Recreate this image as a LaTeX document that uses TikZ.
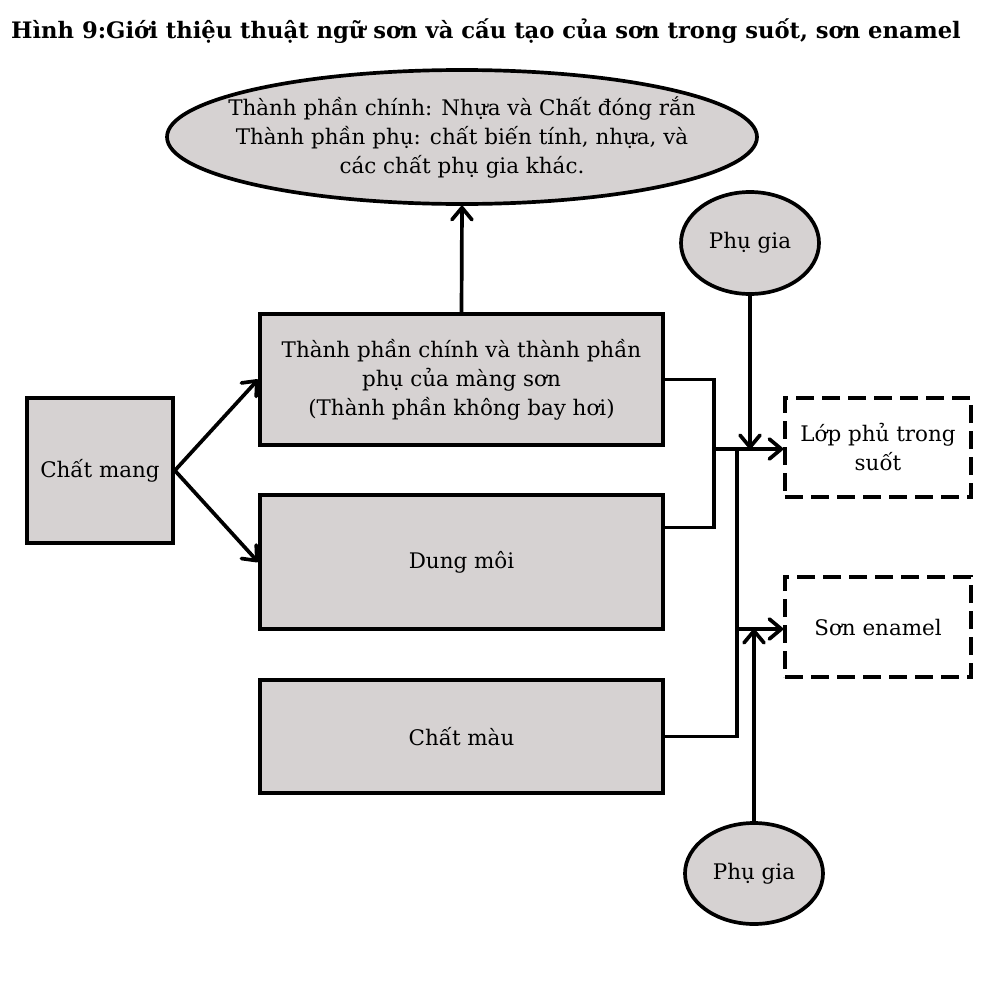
\documentclass[tikz,border=0pt]{standalone}
\usepackage{fontspec}
\setmainfont{DejaVu Serif}
\usetikzlibrary{arrows.meta,shapes.geometric,calc}
\definecolor{boxgray}{RGB}{214,210,210}
\begin{document}
\begin{tikzpicture}[x=0.2mm,y=-0.2mm,
  tfont/.style={font=\fontsize{12.2}{16.5}\selectfont},
  box/.style={draw,line width=2.1pt,fill=boxgray,inner sep=0pt,align=center,tfont},
  dbox/.style={draw,line width=2.1pt,dash pattern=on 3.6mm off 1.6mm,fill=white,inner sep=0pt,align=center,tfont},
  ell/.style={draw,ellipse,line width=2.1pt,fill=boxgray,inner sep=0pt},
  txt/.style={align=center,tfont,inner sep=0pt},
  conn/.style={line width=2.1pt},
  arr/.style={line width=2.1pt,-{Straight Barb[length=2.4mm,width=4mm,line cap=round,round]}}]
\useasboundingbox (0,0) rectangle (1000,1000);
\node[font=\bfseries\fontsize{12.9}{15}\selectfont,inner sep=0pt] (title) at (486,31) {Hình 9:Giới thiệu thuật ngữ sơn và cấu tạo của sơn trong suốt, sơn enamel};
% top ellipse
\node[ell,minimum width=118mm,minimum height=26.8mm] (e1) at (462,137) {};
\node[txt] (e1t) at (e1.center) {Thành phần chính: Nhựa và Chất đóng rắn\\Thành phần phụ: chất biến tính, nhựa, và\\các chất phụ gia khác.};
% boxes
\node[box,minimum width=80.6mm,minimum height=26.2mm] (b1) at (461.5,379.5) {Thành phần chính và thành phần\\phụ của màng sơn\\(Thành phần không bay hơi)};
\node[box,minimum width=29.2mm,minimum height=29mm] (cm) at (100,470.5) {Chất mang};
\node[box,minimum width=80.6mm,minimum height=26.8mm] (dm) at (461.5,562) {Dung môi};
\node[box,minimum width=80.6mm,minimum height=22.6mm] (cmau) at (461.5,736.5) {Chất màu};
\node[dbox,minimum width=37.2mm,minimum height=19.8mm] (lp) at (878,447.5) {Lớp phủ trong\\suốt};
\node[dbox,minimum width=37.2mm,minimum height=20mm] (se) at (878,627) {Sơn enamel};
\node[ell,minimum width=27.6mm,minimum height=20.4mm,tfont] (pg1) at (750,243) {Phụ gia};
\node[ell,minimum width=27.6mm,minimum height=20.2mm,tfont] (pg2) at (754,873.5) {Phụ gia};
% coordinates
\coordinate (j1) at (714,449);
\coordinate (j2) at (737,449);
\coordinate (j3) at (737,629);
\coordinate (dmr) at ($(dm.north east)!0.25!(dm.south east)$);
% connectors
\draw[arr] (b1.north) -- (e1.south);
\draw[arr] (cm.east) -- (b1.west);
\draw[arr] (cm.east) -- (dm.west);
\draw[conn] (b1.east) -- (b1.east -| j1) -- (dmr -| j1) -- (dmr);
\draw[arr] (j1) -- (j1 -| lp.west);
\draw[arr] (pg1.south) -- (pg1.south |- j1);
\draw[conn] (j2) |- (cmau.east);
\draw[arr] (j3) -- (j3 -| se.west);
\draw[arr] (pg2.north) -- (pg2.north |- j3);
\end{tikzpicture}
\end{document}
